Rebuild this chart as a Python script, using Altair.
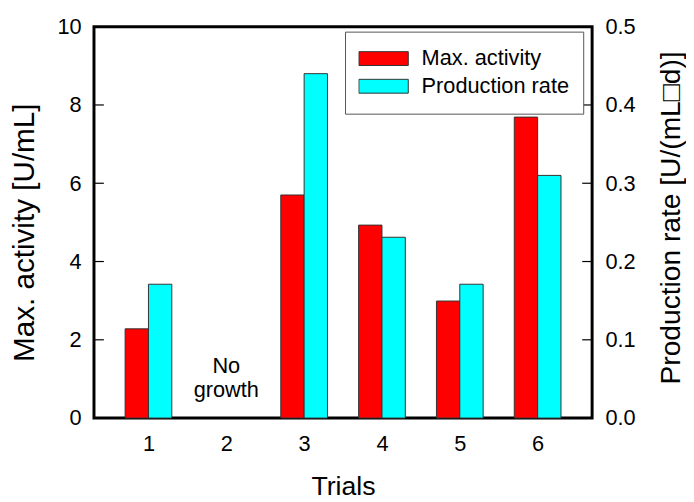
import altair as alt
import pandas as pd

# ---- data ----
trials = [1, 2, 3, 4, 5, 6]
max_activity = [2.28, None, 5.70, 4.93, 2.99, 7.69]          # U/mL (left axis)
production_rate = [0.171, None, 0.44, 0.231, 0.171, 0.31]    # U/(mL d) (right axis)
series_names = ["Max. activity", "Production rate"]
series_colors = ["#ff0000", "#00ffff"]
x_tick_values = [1, 2, 3, 4, 5, 6]
left_tick_values = [0, 2, 4, 6, 8, 10]
right_tick_values = [0.0, 0.1, 0.2, 0.3, 0.4, 0.5]
left_inner_ticks = [2, 4, 6, 8]
right_inner_ticks = [0.1, 0.2, 0.3, 0.4]
note_trial = [2]
note_value = [1.14]
note_text = [["No", "growth"]]

W, H = 504, 396
FONT = "Liberation Sans"
BAR_W = 0.3

act_df = pd.DataFrame({"trial": trials, "value": max_activity,
                       "series": series_names[0]}).dropna()
rate_df = pd.DataFrame({"trial": trials, "value": production_rate,
                        "series": series_names[1]}).dropna()
left_ticks_df = pd.DataFrame({"value": left_inner_ticks})
right_ticks_df = pd.DataFrame({"value": right_inner_ticks})
note_df = pd.DataFrame({"trial": note_trial, "value": note_value, "text": note_text})

x_scale = alt.Scale(domain=[0.3, 6.7], nice=False, zero=False)
yl_scale = alt.Scale(domain=[0, 10], nice=False, zero=True)
yr_scale = alt.Scale(domain=[0, 0.5], nice=False, zero=True)

legend = alt.Legend(
    title=None, orient="none", legendX=254, legendY=5, direction="vertical",
    symbolType="M-1,-0.28L1,-0.28L1,0.28L-1,0.28Z", symbolSize=2500,
    symbolStrokeColor="#333333", symbolStrokeWidth=1, symbolOpacity=1,
    labelFontSize=22, labelFont=FONT, labelColor="black", labelOffset=13,
    labelLimit=400, clipHeight=27.5, rowPadding=0, padding=13.5,
    strokeColor="#555555", fillColor="white",
)
color = alt.Color("series:N",
                  scale=alt.Scale(domain=series_names, range=series_colors),
                  legend=legend)

x_axis = alt.Axis(values=x_tick_values, format="d", ticks=False, domain=False,
                  grid=False, labelFontSize=22, labelPadding=33,
                  labelBaseline="alphabetic", title="Trials", titleFontSize=27,
                  titleFontWeight="normal", titleX=W / 2, titleY=77,
                  titleBaseline="alphabetic", titleAlign="center")
left_axis = alt.Axis(orient="left", values=left_tick_values, format="d",
                     ticks=False, domain=False, grid=False, labelFontSize=22,
                     labelPadding=13, labelFlush=False,
                     title="Max. activity [U/mL]", titleFontSize=30,
                     titleFontWeight="normal", titleAngle=270, titleX=-61,
                     titleY=208, titleBaseline="alphabetic", titleAlign="center")
right_axis = alt.Axis(orient="right", values=right_tick_values, format=".1f",
                      ticks=False, domain=False, grid=False, labelFontSize=22,
                      labelPadding=13, labelFlush=False,
                      title="Production rate [U/(mL\u25a1d)]", titleFontSize=28.5,
                      titleFontWeight="normal", titleAngle=270, titleX=88,
                      titleY=193, titleBaseline="alphabetic", titleAlign="center")

red = alt.Chart(act_df).transform_calculate(
    x0=f"datum.trial - {BAR_W}"
).mark_bar(stroke="#333333", strokeWidth=1).encode(
    x=alt.X("x0:Q", scale=x_scale, axis=x_axis),
    x2="trial:Q",
    y=alt.Y("value:Q", scale=yl_scale, axis=left_axis),
    y2=alt.datum(0),
    color=color,
)
left_ticks = alt.Chart(left_ticks_df).mark_rule(color="black", strokeWidth=1.2).encode(
    y=alt.Y("value:Q", scale=yl_scale, axis=left_axis),
    x=alt.value(0), x2=alt.value(10),
)
note = alt.Chart(note_df).mark_text(
    font=FONT, fontSize=22, baseline="alphabetic", align="center",
    lineHeight=24, color="black"
).encode(
    x=alt.X("trial:Q", scale=x_scale, axis=x_axis),
    y=alt.Y("value:Q", scale=yl_scale, axis=left_axis),
    text="text",
)
cyan = alt.Chart(rate_df).transform_calculate(
    x1=f"datum.trial + {BAR_W}"
).mark_bar(stroke="#333333", strokeWidth=1).encode(
    x=alt.X("trial:Q", scale=x_scale, axis=x_axis),
    x2="x1:Q",
    y=alt.Y("value:Q", scale=yr_scale, axis=right_axis),
    y2=alt.datum(0),
    color=color,
)
right_ticks = alt.Chart(right_ticks_df).mark_rule(color="black", strokeWidth=1.2).encode(
    y=alt.Y("value:Q", scale=yr_scale, axis=right_axis),
    x=alt.value(W - 10), x2=alt.value(W),
)

left_layer = alt.layer(red, left_ticks, note)
right_layer = alt.layer(cyan, right_ticks)

chart = alt.layer(left_layer, right_layer).resolve_scale(
    y="independent"
).properties(
    width=W, height=H,
    padding={"left": 87, "top": 16, "right": 95, "bottom": 82},
    autosize=alt.AutoSizeParams(type="none"),
    background="white",
).configure_view(
    stroke="black", strokeWidth=3
).configure_axis(
    labelFont=FONT, titleFont=FONT, labelColor="black", titleColor="black"
).configure_legend(
    labelFont=FONT
)

chart.save("out.html", embed_options={"renderer": "svg", "actions": False})
